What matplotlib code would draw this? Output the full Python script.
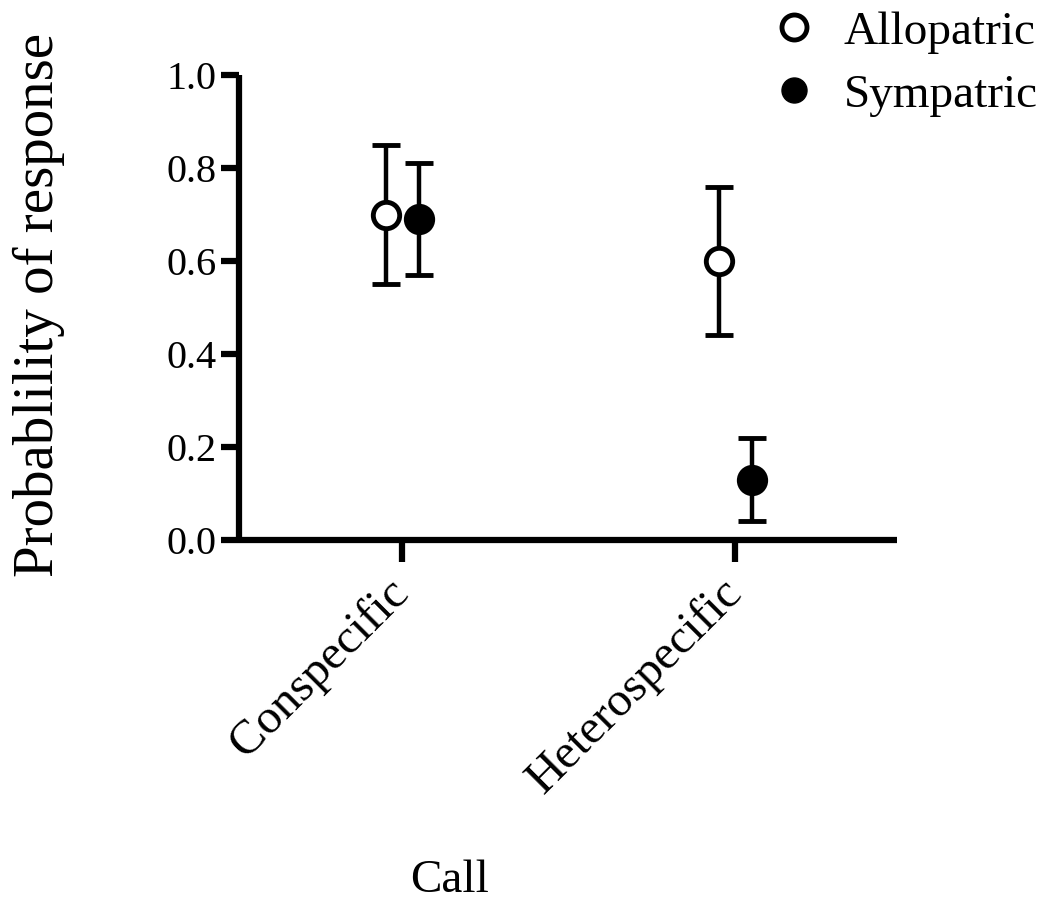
import matplotlib
matplotlib.use("Agg")
import matplotlib.pyplot as plt
from matplotlib.lines import Line2D
import numpy as np

categories = ["Conspecific", "Heterospecific"]
series_names = ["Allopatric", "Sympatric"]
allopatric_mean = [0.70, 0.60]
allopatric_low = [0.55, 0.44]
allopatric_high = [0.85, 0.76]
sympatric_mean = [0.69, 0.13]
sympatric_low = [0.57, 0.04]
sympatric_high = [0.81, 0.22]
y_ticks = [0.0, 0.2, 0.4, 0.6, 0.8, 1.0]

plt.rcParams['font.family'] = ['Liberation Serif', 'DejaVu Serif']

fig = plt.figure(figsize=(10.55, 9.07), dpi=100)
ax = fig.add_axes([239/1055, 1 - 540/907, (897 - 239)/1055, (540 - 75)/907])

x = np.arange(len(categories))
offset = 0.05

def draw(xpos, mean, low, high, face, label):
    mean = np.array(mean)
    yerr = np.vstack([mean - np.array(low), np.array(high) - mean])
    ax.errorbar(xpos, mean, yerr=yerr, fmt='o', color='black', ecolor='black',
                elinewidth=3.2, capsize=10, capthick=3.2, markersize=19,
                markerfacecolor=face, markeredgecolor='black', markeredgewidth=3.5,
                label=label, zorder=3)

draw(x - offset, allopatric_mean, allopatric_low, allopatric_high, 'white', series_names[0])
draw(x + offset, sympatric_mean, sympatric_low, sympatric_high, 'black', series_names[1])

ax.set_xlim(-0.49, 1.485)
ax.set_ylim(0, 1.0)
ax.set_yticks(y_ticks)
ax.set_yticklabels([f"{v:.1f}" for v in y_ticks])
ax.set_xticks(x)
ax.set_xticklabels(categories, rotation=45, ha='right', va='center', rotation_mode='anchor')

for s in ['top', 'right']:
    ax.spines[s].set_visible(False)
for s in ['left', 'bottom']:
    ax.spines[s].set_linewidth(4.5)
    ax.spines[s].set_capstyle('butt')

ax.tick_params(axis='y', direction='out', length=13, width=4.5, labelsize=29, pad=3)
ax.tick_params(axis='x', direction='out', length=16, width=4.5, labelsize=35, pad=17)

ax.set_ylabel("Probablility of response", fontsize=41)
ax.yaxis.set_label_coords(-0.265, 0.505)
ax.set_xlabel("Call", fontsize=34)
ax.xaxis.set_label_coords((450 - 239) / (897 - 239), -(860 - 540) / (540 - 75))

h1 = Line2D([], [], marker='o', linestyle='none', markersize=18, markerfacecolor='white',
            markeredgecolor='black', markeredgewidth=3.5)
h2 = Line2D([], [], marker='o', linestyle='none', markersize=18, markerfacecolor='black',
            markeredgecolor='black')
fig.legend([h1, h2], series_names, loc='upper right', bbox_to_anchor=(1.024, 1.035),
           frameon=False, fontsize=34, handletextpad=0.45, labelspacing=0.42,
           handlelength=1.2)

fig.savefig("out.png", dpi=100)
